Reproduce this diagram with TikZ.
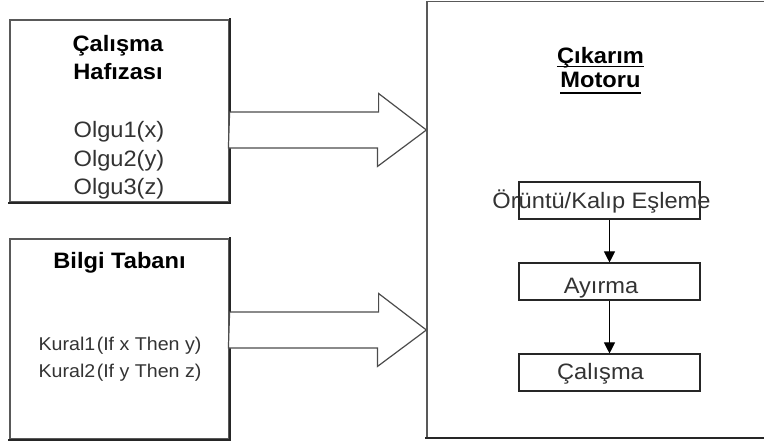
\documentclass[tikz,border=0pt]{standalone}
\usepackage{fontspec}
\setmainfont{Liberation Sans}[FakeStretch=1.06]
\usetikzlibrary{arrows.meta}
\begin{document}
\begin{tikzpicture}[x=1pt,y=-1pt,
  panel/.style={draw=black!65, line width=1.2pt, fill=white, rectangle, inner sep=0pt},
  edge/.style={draw=black!85, line width=2pt, line cap=rect},
  stagebox/.style={draw=black!85, line width=1.1pt, rectangle, inner sep=0pt,
    minimum width=181pt, minimum height=37pt},
  title/.style={font=\fontsize{22.3}{26}\selectfont\bfseries, text=black, inner sep=0pt, anchor=base},
  body/.style={font=\fontsize{22.3}{26}\selectfont, text=black!80, inner sep=0pt, anchor=base},
  rule/.style={font=\fontsize{18.5}{22}\selectfont, text=black!80, inner sep=0pt, anchor=base},
  blockarrow/.style={draw=black!70, line width=1.2pt, fill=white, line join=miter},
  flow/.style={draw=black, line width=1pt, -{Triangle[length=11pt,width=11pt]}},
  underl/.style={draw=black, line width=1.5pt},
]
\useasboundingbox (0,0) rectangle (764,442);

% outer panels
\node[panel, minimum width=219pt, minimum height=182pt] (hafiza) at (119.5,111) {};
\node[panel, minimum width=219pt, minimum height=200pt] (bilgi) at (119.5,339) {};
\node[panel, minimum width=339pt, minimum height=436pt] (motor) at (596.5,219.5) {};

% darker lower and right edges of the panels
\draw[edge] (hafiza.north east) -- (hafiza.south east) -- (hafiza.south west);
\draw[edge] (bilgi.north east) -- (bilgi.south east) -- (bilgi.south west);
\draw[edge] (motor.south east) -- (motor.south west);

% inference engine stages
\node[stagebox] (oruntu) at (609.5,200.5) {};
\node[stagebox] (ayirma) at (609.5,281.5) {};
\node[stagebox] (calis) at (609.5,372.5) {};

% working memory
\node[title] (h1) at (118,51) {Çalışma};
\node[title] (h2) at (118,79) {Hafızası};
\node[body] (o1) at (119,137) {Olgu1(x)};
\node[body] (o2) at (119,166) {Olgu2(y)};
\node[body] (o3) at (119,194.5) {Olgu3(z)};

% knowledge base
\node[title] (b1) at (119.5,268) {Bilgi Tabanı};
\node[rule] (k1) at (120,350) {Kural1\kern1.5pt(If x Then y)};
\node[rule] (k2) at (120,377) {Kural2\kern1.5pt(If y Then z)};

% inference engine heading
\node[title] (m1) at (600.5,63) {Çıkarım};
\node[title] (m2) at (600.5,87) {Motoru};
\draw[underl] ([yshift=-3.5pt]m1.base west) -- ([yshift=-3.5pt]m1.base east);
\draw[underl] ([yshift=-6pt]m2.base west) -- ([yshift=-6pt]m2.base east);

% stage labels
\node[body] (s1) at (601.5,208) {Örüntü/Kalıp Eşleme};
\node[body] (s2) at (601,293) {Ayırma};
\node[body] (s3) at (600.5,379) {Çalışma};

% block arrows into the engine
\coordinate (r1) at (0,130);
\coordinate (r2) at (0,330);
\draw[blockarrow] (hafiza.east |- r1) ++(0,-18) -- ++(149,0) -- ++(0,-18.5)
  -- (motor.west |- r1) -- ++(-49,36.5) -- ++(0,-18.5) -- ++(-149,0) -- cycle;
\draw[blockarrow] (bilgi.east |- r2) ++(0,-18) -- ++(149,0) -- ++(0,-18.5)
  -- (motor.west |- r2) -- ++(-49,36.5) -- ++(0,-18.5) -- ++(-149,0) -- cycle;

% stage flow
\draw[flow] (oruntu.south) -- (ayirma.north);
\draw[flow] (ayirma.south) -- (calis.north);
\end{tikzpicture}
\end{document}
